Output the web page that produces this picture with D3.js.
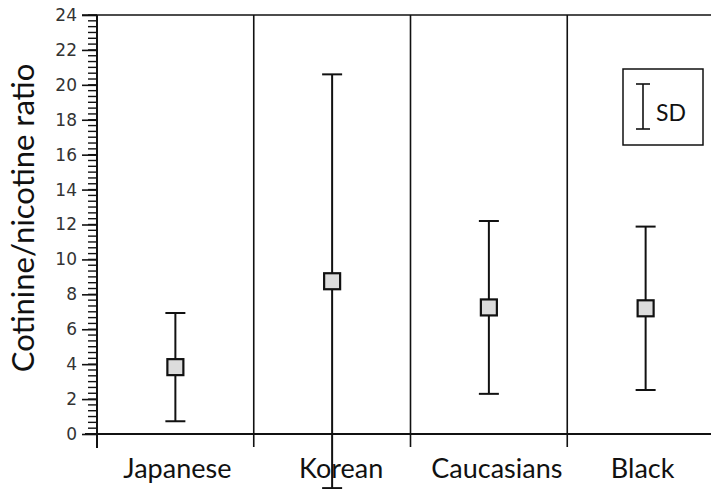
<!DOCTYPE html>
<html>
<head>
<meta charset="utf-8">
<script src="https://cdn.jsdelivr.net/npm/d3@7"></script>
<style>
  html, body { margin: 0; padding: 0; background: #fff; }
  svg { display: block; }
</style>
</head>
<body>
<svg id="chart" width="711" height="489"></svg>
<script>
// Cotinine/nicotine ratio by group: mean and standard deviation
const groups = ["Japanese", "Korean", "Caucasians", "Black"];
const means = [3.83, 8.75, 7.25, 7.2];
const sds = [3.1, 11.85, 4.95, 4.68];
const yTickLabels = [0, 2, 4, 6, 8, 10, 12, 14, 16, 18, 20, 22, 24];

const svg = d3.select("#chart");
const W = 711;
const plotLeft = 97, plotTop = 15, plotBottom = 434;

const x = d3.scaleBand().domain(groups).range([plotLeft, 724]).padding(0);
const y = d3.scaleLinear().domain([0, 24]).range([plotBottom, plotTop]);

const ink = "#111";
const labelFont = "Lato, 'Open Sans', sans-serif";

// Minor ticks on the value axis
const minor = d3.range(0, 72.001, 1).map(i => i / 3);
svg.append("g")
  .selectAll("line")
  .data(minor)
  .join("line")
  .attr("x1", plotLeft - 9).attr("x2", plotLeft)
  .attr("y1", d => y(d)).attr("y2", d => y(d))
  .attr("stroke", ink).attr("stroke-width", 1.4);

// Value axis with labelled major ticks
const yAxis = svg.append("g")
  .attr("transform", `translate(${plotLeft},0)`)
  .call(d3.axisLeft(y).tickValues(yTickLabels).tickSize(15).tickPadding(5).tickSizeOuter(0));
yAxis.select(".domain").remove();
yAxis.selectAll(".tick line").attr("stroke", ink).attr("stroke-width", 1.6);
yAxis.selectAll(".tick text")
  .attr("font-family", "'DejaVu Sans', sans-serif")
  .attr("font-size", 17)
  .attr("fill", "#333");

// Axis line (extends slightly below zero)
svg.append("line")
  .attr("x1", plotLeft).attr("x2", plotLeft)
  .attr("y1", plotTop).attr("y2", plotBottom + 14)
  .attr("stroke", ink).attr("stroke-width", 2);

// Frame top and baseline
svg.append("line")
  .attr("x1", plotLeft - 15).attr("x2", W)
  .attr("y1", plotTop).attr("y2", plotTop)
  .attr("stroke", ink).attr("stroke-width", 1.5);
svg.append("line")
  .attr("x1", plotLeft - 12).attr("x2", W)
  .attr("y1", plotBottom).attr("y2", plotBottom)
  .attr("stroke", ink).attr("stroke-width", 2);

// Group separators
svg.append("g")
  .selectAll("line")
  .data(groups.slice(1))
  .join("line")
  .attr("x1", d => x(d)).attr("x2", d => x(d))
  .attr("y1", plotTop).attr("y2", plotBottom + 13)
  .attr("stroke", ink).attr("stroke-width", 1.6);

// Category labels, nudged slightly off the band centres
const labelShift = [2, 9, 8, -3];
svg.append("g")
  .selectAll("text")
  .data(groups)
  .join("text")
  .attr("x", (d, i) => x(d) + x.bandwidth() / 2 + labelShift[i])
  .attr("y", 478)
  .attr("text-anchor", "middle")
  .attr("font-family", labelFont)
  .attr("font-size", 27)
  .attr("fill", "#111")
  .text(d => d);

// Axis title
svg.append("text")
  .attr("transform", "translate(34,218) rotate(-90)")
  .attr("text-anchor", "middle")
  .attr("font-family", labelFont)
  .attr("font-size", 31)
  .attr("fill", "#111")
  .text("Cotinine/nicotine ratio");

// Error bars with mean markers
const data = groups.map((g, i) => ({ g, m: means[i], sd: sds[i] }));
const bars = svg.append("g").selectAll("g").data(data).join("g")
  .attr("transform", d => `translate(${x(d.g) + x.bandwidth() / 2},0)`);
bars.append("line")
  .attr("y1", d => y(d.m + d.sd)).attr("y2", d => y(d.m - d.sd))
  .attr("stroke", ink).attr("stroke-width", 2);
bars.append("line")
  .attr("x1", -10).attr("x2", 10)
  .attr("y1", d => y(d.m + d.sd)).attr("y2", d => y(d.m + d.sd))
  .attr("stroke", ink).attr("stroke-width", 2);
bars.append("line")
  .attr("x1", -10).attr("x2", 10)
  .attr("y1", d => y(d.m - d.sd)).attr("y2", d => y(d.m - d.sd))
  .attr("stroke", ink).attr("stroke-width", 2);
bars.append("rect")
  .attr("x", -8).attr("y", d => y(d.m) - 8)
  .attr("width", 16).attr("height", 16)
  .attr("fill", "#dcdcdc")
  .attr("stroke", ink).attr("stroke-width", 2.2);

// Legend
const lg = svg.append("g").attr("transform", "translate(623,69)");
lg.append("rect").attr("width", 80).attr("height", 76)
  .attr("fill", "#fff").attr("stroke", ink).attr("stroke-width", 1.5);
lg.append("line").attr("x1", 20).attr("x2", 20).attr("y1", 15).attr("y2", 60)
  .attr("stroke", ink).attr("stroke-width", 1.6);
lg.append("line").attr("x1", 13).attr("x2", 27).attr("y1", 15).attr("y2", 15)
  .attr("stroke", ink).attr("stroke-width", 1.6);
lg.append("line").attr("x1", 13).attr("x2", 27).attr("y1", 60).attr("y2", 60)
  .attr("stroke", ink).attr("stroke-width", 1.6);
lg.append("text").attr("x", 33).attr("y", 52)
  .attr("font-family", labelFont)
  .attr("font-size", 23).attr("fill", "#111")
  .text("SD");
</script>
</body>
</html>
